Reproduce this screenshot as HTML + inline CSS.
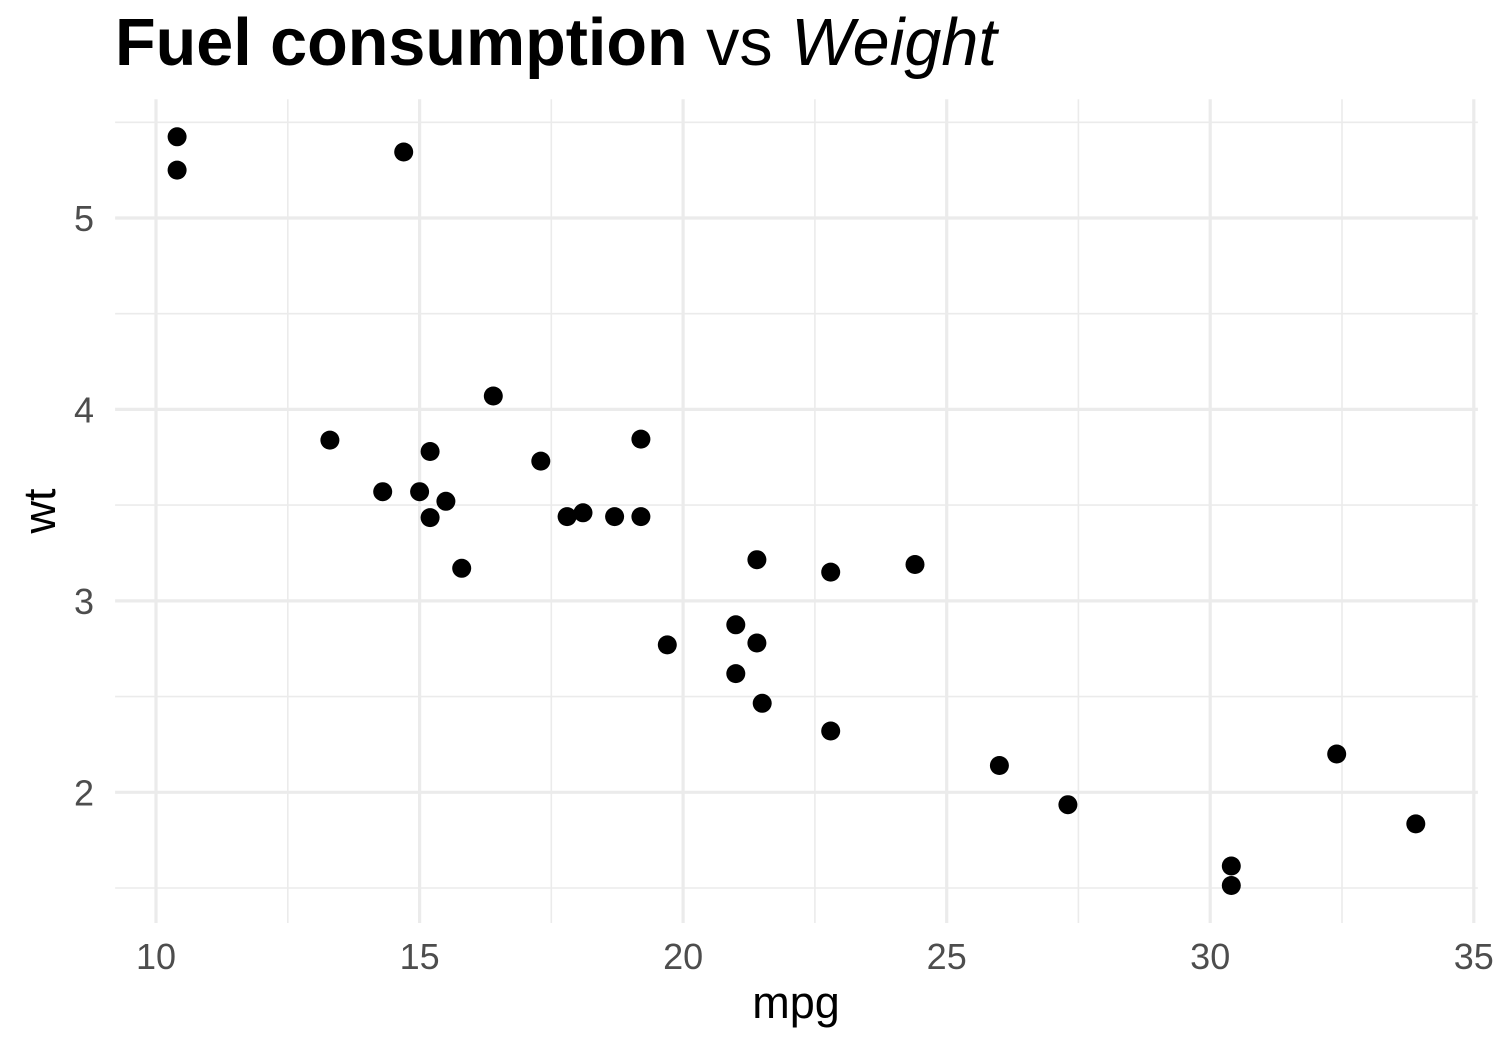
<!DOCTYPE html>
<html>
<head>
<meta charset="utf-8">
<style>
  html, body { margin: 0; padding: 0; background: #ffffff; }
  svg { display: block; }
  text { font-family: "Liberation Sans", Arial, sans-serif; }
</style>
</head>
<body>
<svg width="1500" height="1050" viewBox="0 0 1500 1050" xmlns="http://www.w3.org/2000/svg">
  <rect x="0" y="0" width="1500" height="1050" fill="#ffffff"/>

  <!-- minor grid -->
  <g stroke="#EBEBEB" stroke-width="1.6" fill="none">
    <line x1="287.8" y1="99.3" x2="287.8" y2="923"/>
    <line x1="551.3" y1="99.3" x2="551.3" y2="923"/>
    <line x1="814.9" y1="99.3" x2="814.9" y2="923"/>
    <line x1="1078.4" y1="99.3" x2="1078.4" y2="923"/>
    <line x1="1342.0" y1="99.3" x2="1342.0" y2="923"/>
    <line x1="115.1" y1="122.3" x2="1477.9" y2="122.3"/>
    <line x1="115.1" y1="313.7" x2="1477.9" y2="313.7"/>
    <line x1="115.1" y1="505.1" x2="1477.9" y2="505.1"/>
    <line x1="115.1" y1="696.6" x2="1477.9" y2="696.6"/>
    <line x1="115.1" y1="888.0" x2="1477.9" y2="888.0"/>
  </g>
  <!-- major grid -->
  <g stroke="#EBEBEB" stroke-width="3.2" fill="none">
    <line x1="156" y1="99.3" x2="156" y2="923"/>
    <line x1="419.6" y1="99.3" x2="419.6" y2="923"/>
    <line x1="683.1" y1="99.3" x2="683.1" y2="923"/>
    <line x1="946.7" y1="99.3" x2="946.7" y2="923"/>
    <line x1="1210.2" y1="99.3" x2="1210.2" y2="923"/>
    <line x1="1473.8" y1="99.3" x2="1473.8" y2="923"/>
    <line x1="115.1" y1="218" x2="1477.9" y2="218"/>
    <line x1="115.1" y1="409.4" x2="1477.9" y2="409.4"/>
    <line x1="115.1" y1="600.9" x2="1477.9" y2="600.9"/>
    <line x1="115.1" y1="792.3" x2="1477.9" y2="792.3"/>
  </g>

  <!-- points -->
  <g fill="#000000">
    <circle cx="735.8" cy="673.6" r="9.5"/>
    <circle cx="735.8" cy="624.8" r="9.5"/>
    <circle cx="830.7" cy="731.0" r="9.5"/>
    <circle cx="756.9" cy="559.7" r="9.5"/>
    <circle cx="614.6" cy="516.6" r="9.5"/>
    <circle cx="583.0" cy="512.8" r="9.5"/>
    <circle cx="382.7" cy="491.7" r="9.5"/>
    <circle cx="915.0" cy="564.5" r="9.5"/>
    <circle cx="830.7" cy="572.1" r="9.5"/>
    <circle cx="640.9" cy="516.6" r="9.5"/>
    <circle cx="567.1" cy="516.6" r="9.5"/>
    <circle cx="493.3" cy="396.0" r="9.5"/>
    <circle cx="540.8" cy="461.1" r="9.5"/>
    <circle cx="430.1" cy="451.5" r="9.5"/>
    <circle cx="177.1" cy="170.1" r="9.5"/>
    <circle cx="177.1" cy="136.8" r="9.5"/>
    <circle cx="403.7" cy="152.0" r="9.5"/>
    <circle cx="1336.7" cy="754.0" r="9.5"/>
    <circle cx="1231.3" cy="866.0" r="9.5"/>
    <circle cx="1415.8" cy="823.9" r="9.5"/>
    <circle cx="762.2" cy="703.3" r="9.5"/>
    <circle cx="445.9" cy="501.3" r="9.5"/>
    <circle cx="430.1" cy="517.6" r="9.5"/>
    <circle cx="329.9" cy="440.1" r="9.5"/>
    <circle cx="640.9" cy="439.1" r="9.5"/>
    <circle cx="1067.9" cy="804.7" r="9.5"/>
    <circle cx="999.4" cy="765.5" r="9.5"/>
    <circle cx="1231.3" cy="885.5" r="9.5"/>
    <circle cx="461.7" cy="568.3" r="9.5"/>
    <circle cx="667.3" cy="644.9" r="9.5"/>
    <circle cx="419.6" cy="491.7" r="9.5"/>
    <circle cx="756.9" cy="643.0" r="9.5"/>
  </g>

  <!-- x tick labels -->
  <g fill="#4D4D4D" font-size="36" text-anchor="middle">
    <text x="156" y="969">10</text>
    <text x="419.6" y="969">15</text>
    <text x="683.1" y="969">20</text>
    <text x="946.7" y="969">25</text>
    <text x="1210.2" y="969">30</text>
    <text x="1473.8" y="969">35</text>
  </g>
  <!-- y tick labels -->
  <g fill="#4D4D4D" font-size="36" text-anchor="end">
    <text x="94" y="231">5</text>
    <text x="94" y="422.4">4</text>
    <text x="94" y="613.9">3</text>
    <text x="94" y="805.3">2</text>
  </g>

  <!-- axis titles -->
  <text x="796" y="1018" font-size="45" fill="#000000" text-anchor="middle">mpg</text>
  <text x="0" y="0" font-size="45" fill="#000000" text-anchor="middle" transform="translate(55,511) rotate(-90)">wt</text>

  <!-- title -->
  <text x="115" y="65" font-size="66.5" fill="#000000"><tspan font-weight="bold">Fuel consumption</tspan><tspan> vs </tspan><tspan font-style="italic">Weight</tspan></text>
</svg>
</body>
</html>
